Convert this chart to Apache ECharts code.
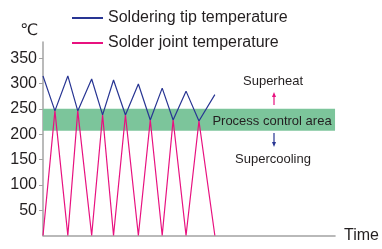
<!DOCTYPE html>
<html>
<head>
<meta charset="utf-8">
<script src="https://cdn.jsdelivr.net/npm/echarts@6/dist/echarts.min.js"></script>
<style>
  html, body { margin: 0; padding: 0; background: #fff; }
  #chart { width: 382px; height: 249px; }
</style>
</head>
<body>
<div id="chart"></div>
<script>
// time steps along the x axis (arbitrary units)
const timeSteps = [0, 12, 25, 35, 49, 60, 71, 83, 96, 108, 120, 131, 144, 157, 173]
const tipTemp = [315, 246, 315, 246, 309, 238, 307, 238, 299, 228, 291, 228, 285, 226, 278]
const jointTemp = [0, 246, 0, 246, 0, 238, 0, 238, 0, 228, 0, 228, 0, 226, 0]
const yTicks = [50, 100, 150, 200, 250, 300, 350]
const band = [207, 250]
const timeMax = 294
const yMax = 382

const textColor = '#231f20'
const axisColor = '#a3a3a3'
const font = 'Liberation Sans, Arial, sans-serif'

const chart = echarts.init(document.getElementById('chart'))

const opts = {
  animation: false,
  textStyle: { fontFamily: font, color: textColor },
  legend: {
    orient: 'vertical',
    left: 66,
    top: 5,
    itemWidth: 31,
    itemHeight: 16,
    itemGap: 9,
    itemStyle: { opacity: 0 },
    textStyle: { fontSize: 16, color: textColor, fontFamily: font },
    data: ['Soldering tip temperature', 'Solder joint temperature']
  },
  grid: { left: 43, right: 45, top: 42, bottom: 13.5 },
  xAxis: {
    type: 'value',
    min: 0,
    max: timeMax,
    name: 'Time',
    nameLocation: 'end',
    nameGap: 9,
    nameTextStyle: { fontSize: 16, color: textColor, padding: [13, 0, 0, 0] },
    splitLine: { show: false },
    axisLine: { show: true, lineStyle: { color: axisColor, width: 1.5 } },
    axisTick: { show: false },
    axisLabel: { show: false }
  },
  yAxis: {
    type: 'value',
    min: 0,
    max: yMax,
    name: '℃',
    nameLocation: 'end',
    nameGap: 3,
    nameTextStyle: { fontSize: 16, color: textColor, align: 'right', padding: [0, 5, 0, 0], fontFamily: 'DejaVu Sans, sans-serif' },
    splitLine: { show: false },
    axisLine: { show: true, lineStyle: { color: axisColor, width: 1.5 } },
    axisTick: { show: true, length: 4, customValues: yTicks, lineStyle: { color: axisColor, width: 1 } },
    axisLabel: { fontSize: 16, color: textColor, margin: 6, customValues: yTicks }
  },
  series: [
    {
      name: 'Soldering tip temperature',
      type: 'line',
      symbol: 'none',
      color: '#283593',
      lineStyle: { width: 1.2, color: '#283593' },
      data: timeSteps.map((t, i) => [t, tipTemp[i]]),
      markArea: {
        silent: true,
        itemStyle: { color: '#7cc59b' },
        data: [[{ xAxis: 0, yAxis: band[0] }, { xAxis: timeMax, yAxis: band[1] }]]
      }
    },
    {
      name: 'Solder joint temperature',
      type: 'line',
      symbol: 'none',
      color: '#e8117f',
      lineStyle: { width: 1.2, color: '#e8117f' },
      data: timeSteps.map((t, i) => [t, jointTemp[i]])
    }
  ],
  graphic: [
    { type: 'text', x: 273, y: 81, style: { text: 'Superheat', fill: textColor, font: '13px ' + font, align: 'center', verticalAlign: 'middle' } },
    { type: 'text', x: 272, y: 121, z: 10, style: { text: 'Process control area', fill: textColor, font: '13px ' + font, align: 'center', verticalAlign: 'middle' } },
    { type: 'text', x: 273, y: 159, style: { text: 'Supercooling', fill: textColor, font: '13px ' + font, align: 'center', verticalAlign: 'middle' } },
    { type: 'line', shape: { x1: 274, y1: 96, x2: 274, y2: 105 }, style: { stroke: '#e8117f', lineWidth: 1.2 } },
    { type: 'polygon', shape: { points: [[274, 92], [272, 97], [276, 97]] }, style: { fill: '#e8117f' } },
    { type: 'line', shape: { x1: 274, y1: 133, x2: 274, y2: 143 }, style: { stroke: '#283593', lineWidth: 1.2 } },
    { type: 'polygon', shape: { points: [[274, 147], [272, 142], [276, 142]] }, style: { fill: '#283593' } }
  ]
}

chart.setOption(opts)
</script>
</body>
</html>
